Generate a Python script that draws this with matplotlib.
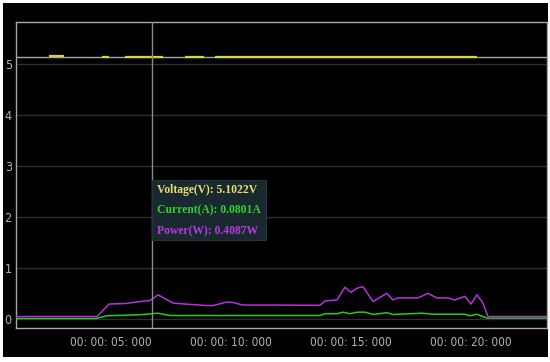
"""Power-meter trace: voltage / current / power over time, dark theme."""

import matplotlib

matplotlib.use("Agg")
import matplotlib.pyplot as plt  # noqa: E402
from matplotlib.patches import Rectangle  # noqa: E402

# Power (W), time in seconds
power_t = [1.04, 4.42, 4.92, 5.58, 6.42, 6.63, 6.96, 7.58, 8.08, 9.0, 9.25,
           9.83, 10.08, 10.5, 11.83, 13.71, 13.92, 14.42, 14.75, 15.0, 15.25,
           15.5, 15.92, 16.5, 16.75, 16.96, 17.79, 18.21, 18.58, 19.04, 19.33,
           19.75, 20.0, 20.25, 20.5, 20.71, 23.17]
power_w = [0.045, 0.045, 0.29, 0.30, 0.35, 0.36, 0.47, 0.31, 0.29, 0.26, 0.26,
           0.33, 0.32, 0.27, 0.27, 0.265, 0.35, 0.37, 0.62, 0.52, 0.60,
           0.63, 0.34, 0.50, 0.37, 0.41, 0.41, 0.50, 0.41, 0.41, 0.37,
           0.44, 0.29, 0.47, 0.31, 0.045, 0.045]

# Current (A), green trace
current_t = [1.04, 4.38, 4.83, 6.21, 6.96, 7.46, 13.71, 13.92, 14.42, 14.67,
             14.96, 15.25, 15.58, 15.92, 16.5, 16.75, 17.96, 18.42, 19.75,
             19.96, 20.25, 20.67, 23.17]
current_a = [0.006, 0.006, 0.06, 0.08, 0.11, 0.065, 0.065, 0.10, 0.10, 0.13,
             0.10, 0.13, 0.13, 0.085, 0.12, 0.085, 0.11, 0.09, 0.09,
             0.06, 0.09, 0.014, 0.014]

# Voltage (V): a grey baseline plus the yellow segments where it was logged
voltage_base = 5.13
volt_start = [2.42, 4.62, 5.58, 8.08, 9.33]
volt_end = [3.04, 4.92, 7.17, 8.88, 20.25]
volt_value = [5.15, 5.13, 5.13, 5.13, 5.13]

x_ticks = [5, 10, 15, 20]
x_labels = ["00: 00: 05: 000", "00: 00: 10: 000",
            "00: 00: 15: 000", "00: 00: 20: 000"]
y_ticks = [0, 1, 2, 3, 4, 5]

cursor_t = 6.71
readout = [("Voltage(V): 5.1022V", "#e6e070"),
           ("Current(A): 0.0801A", "#2fd02f"),
           ("Power(W): 0.4087W", "#b43cdc")]

fig = plt.figure(figsize=(5.5, 3.62), dpi=100, facecolor="white")
fig.add_artist(Rectangle((3 / 550, 5 / 362), 545 / 550, 354 / 362,
                         transform=fig.transFigure, facecolor="black",
                         edgecolor="none", zorder=-5))
ax = fig.add_axes([16 / 550, 34 / 362, 531 / 550, 306 / 362])
ax.set_facecolor("black")

ax.set_xlim(1.04, 23.17)
ax.set_ylim(-0.18, 5.82)

for y in y_ticks:
    ax.axhline(y, color="#2e2e2e", lw=1.0, zorder=1)

ax.axhline(voltage_base, color="#a8a8a8", lw=1.0, zorder=2)
ax.hlines(volt_value, volt_start, volt_end, color="#d4d43c", lw=1.6, zorder=3)

ax.plot(current_t, current_a, color="#22cc22", lw=1.1, zorder=4)
ax.plot(power_t, power_w, color="#b433d8", lw=1.1, zorder=5)

ax.axvline(cursor_t, color="#8a8a8a", lw=1.0, zorder=6)

# readout box next to the cursor
ax.add_patch(Rectangle((cursor_t, 1.55), 4.75, 1.17, facecolor="#1a2830",
                       edgecolor="#26343c", lw=0.8, zorder=7))
for i, (txt, col) in enumerate(readout):
    ax.text(cursor_t + 0.22, 2.52 - i * 0.4, txt, color=col, fontsize=8.4,
            family="Liberation Serif", fontweight="bold", va="center",
            zorder=8)

ax.set_xticks(x_ticks, x_labels)
ax.set_yticks(y_ticks)
ax.tick_params(length=0, colors="#b4b4b4", labelsize=9)
ax.tick_params(axis="x", pad=6)
ax.tick_params(axis="y", pad=3)
for lab in ax.get_xticklabels() + ax.get_yticklabels():
    lab.set_family("DejaVu Sans")
    lab.set_stretch("condensed")
for lab in ax.get_xticklabels():
    lab.set_fontsize(8.5)

for side in ("left", "bottom", "top", "right"):
    ax.spines[side].set_color("#a8a8a8")
    ax.spines[side].set_linewidth(1.0)

fig.savefig("out.png", dpi=100, facecolor=fig.get_facecolor())
